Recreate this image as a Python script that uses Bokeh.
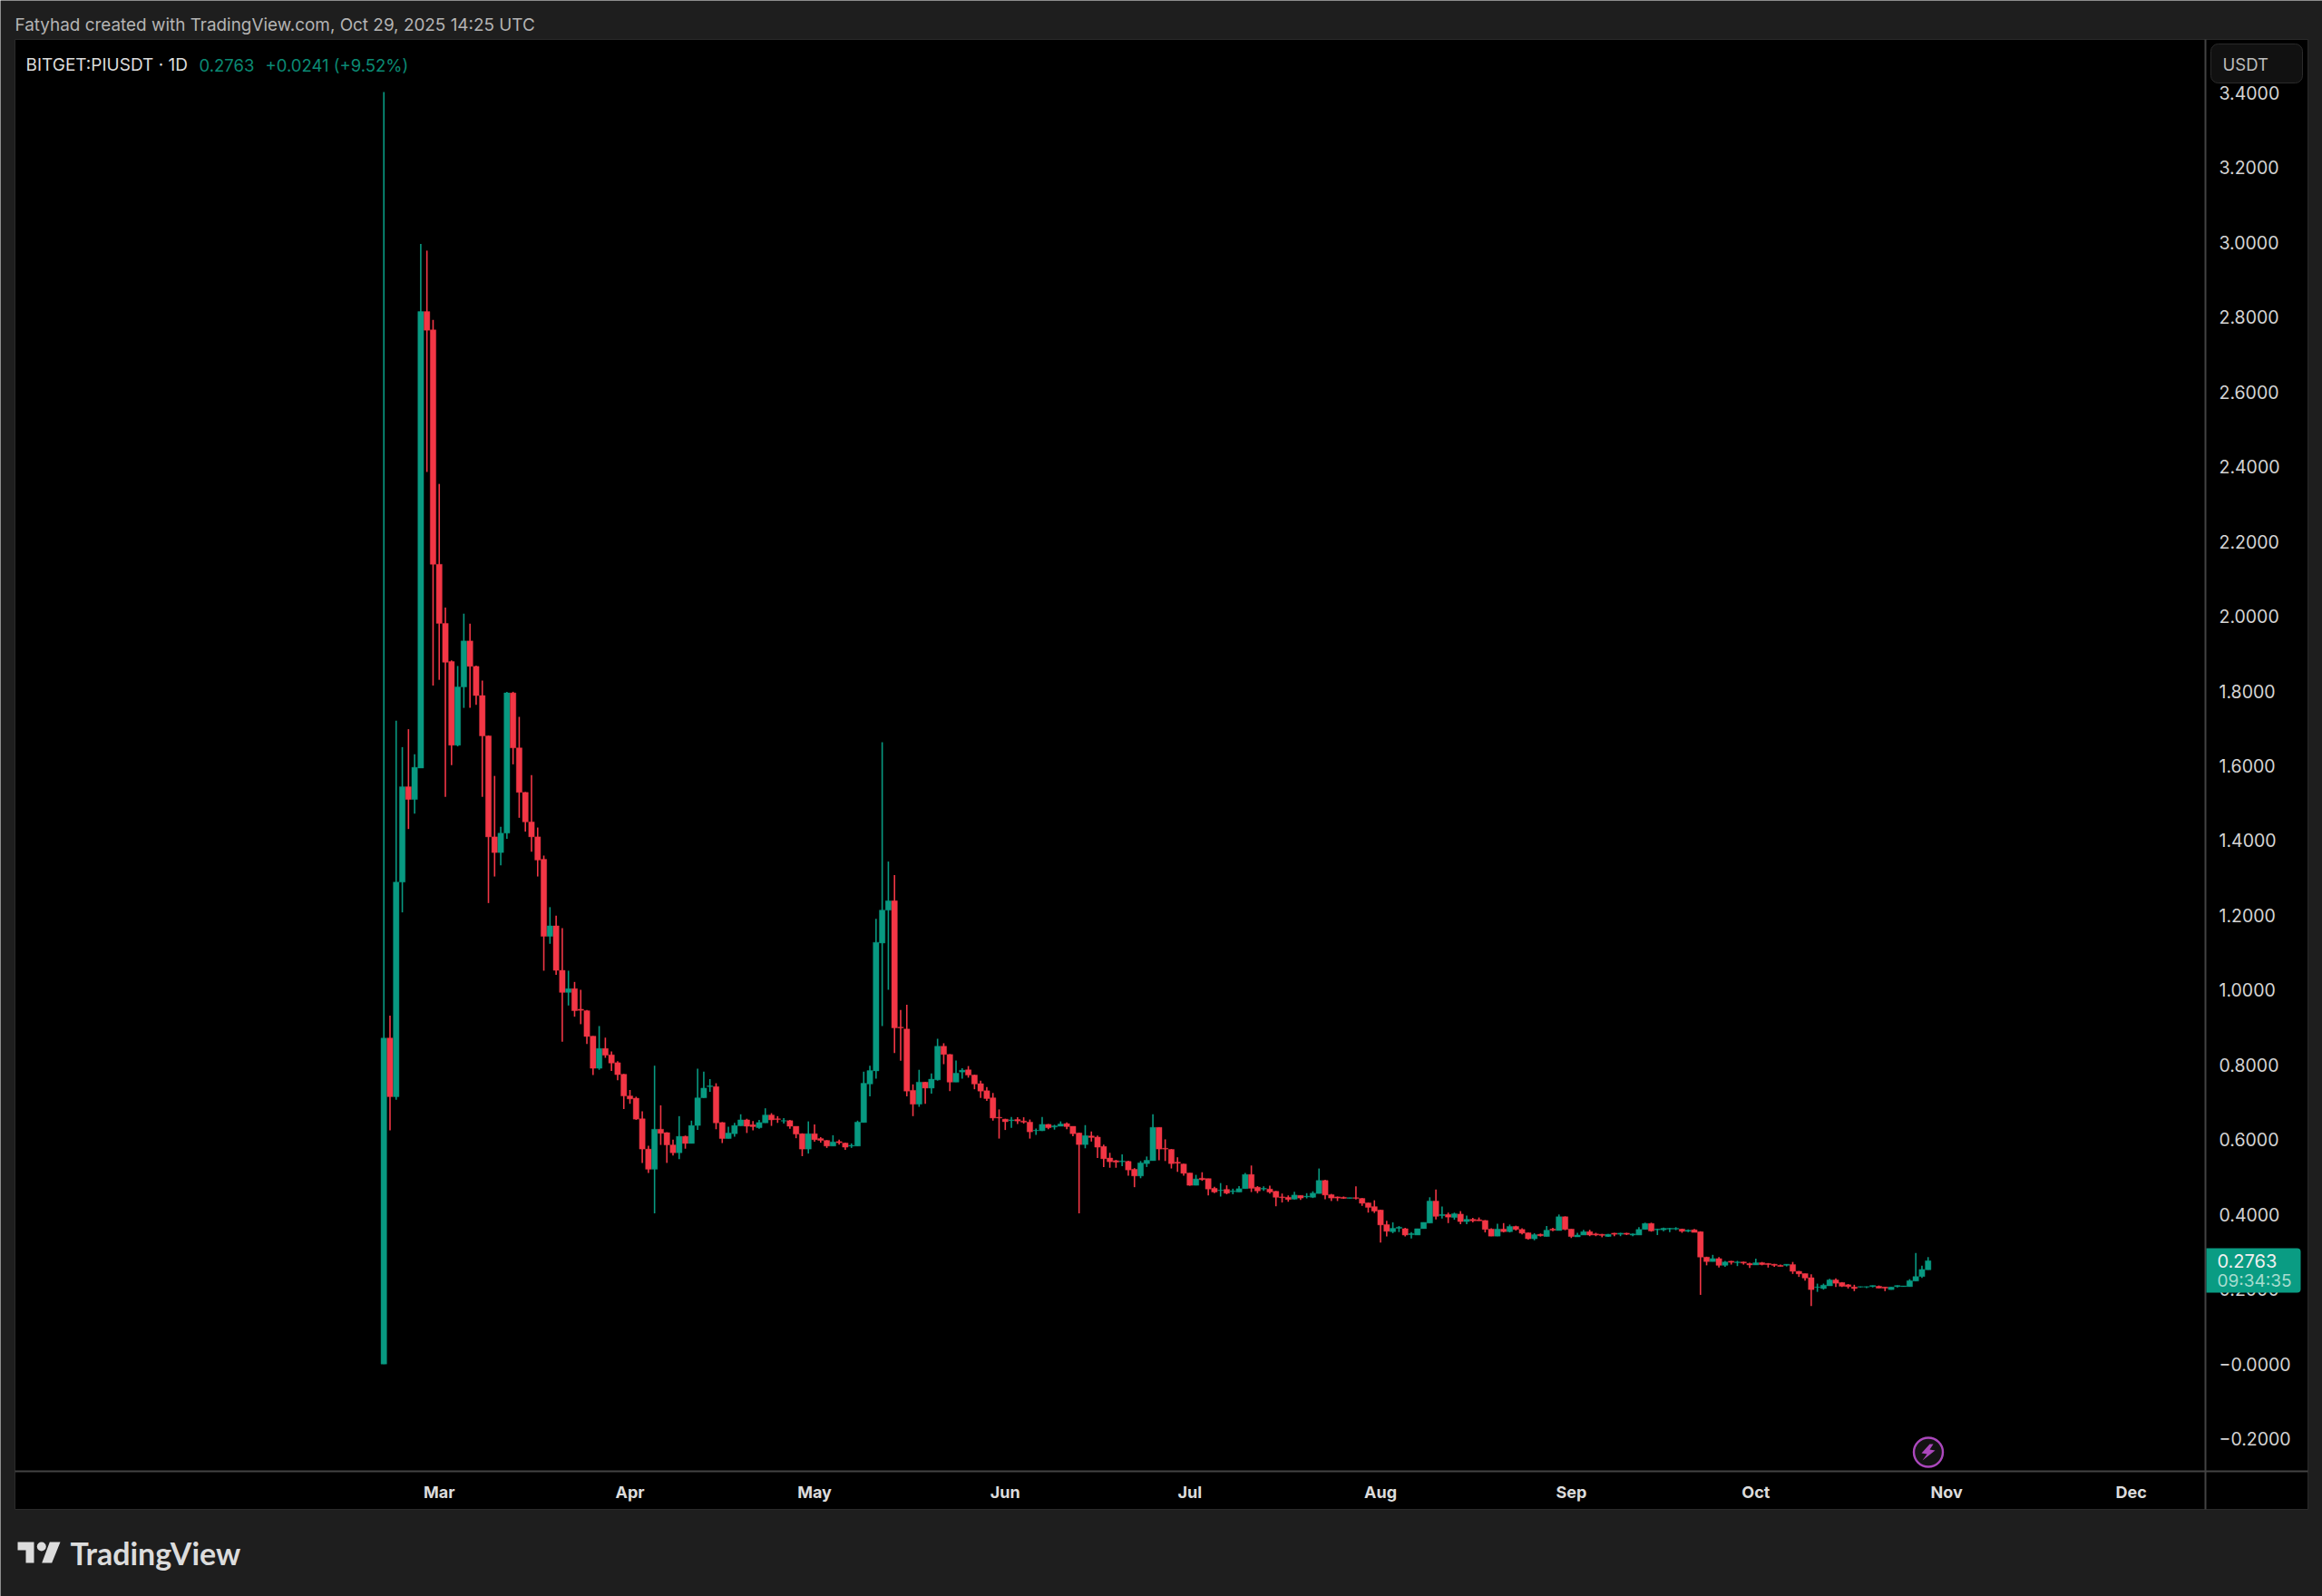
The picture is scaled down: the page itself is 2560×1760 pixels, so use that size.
import pandas as pd
from bokeh.plotting import figure
from bokeh.models import (ColumnDataSource, Range1d, FixedTicker, DatetimeTickFormatter, BoxAnnotation, PolyAnnotation,
                          Label)
from bokeh.embed import file_html
from bokeh.resources import INLINE

opens = [
 0.000,.872,.715,1.289,1.544,1.510,1.594,2.815,2.766,2.139,
 1.981,1.879,1.655,1.811,1.934,1.866,1.788,1.680,1.410,1.368,
 1.420,1.795,1.648,1.529,1.450,1.410,1.350,1.144,1.172,1.053,
 .994,1.004,.949,.945,.877,.791,.844,.827,.806,.775,
 .717,.711,.656,.575,.521,.628,.619,.586,.565,.609,
 .590,.638,.712,.742,.742,.646,.603,.616,.637,.653,
 .640,.632,.645,.666,.656,.650,.651,.636,.616,.575,
 .616,.603,.598,.583,.595,.591,.583,.583,.646,.749,
 .784,1.126,1.214,1.239,.901,.896,.732,.695,.754,.738,
 .760,.850,.828,.754,.781,.787,.773,.750,.731,.712,
 .660,.655,.651,.654,.650,.647,.624,.624,.641,.634,
 .636,.643,.636,.618,.587,.610,.607,.582,.551,.544,
 .541,.542,.521,.503,.536,.544,.633,.577,.574,.540,
 .535,.511,.478,.497,.496,.470,.464,.467,.461,.460,
 .469,.507,.473,.468,.468,.462,.447,.446,.441,.451,
 .447,.446,.456,.491,.453,.447,.446,.443,.445,.443,
 .431,.421,.412,.373,.354,.363,.362,.346,.345,.362,
 .377,.436,.397,.400,.392,.401,.381,.387,.386,.384,
 .361,.342,.361,.354,.368,.360,.351,.335,.347,.341,
 .361,.357,.394,.361,.340,.345,.354,.348,.347,.341,
 .350,.347,.350,.345,.345,.360,.376,.359,.359,.361,
 .361,.361,.355,.359,.354,.286,.274,.282,.264,.275,
 .271,.273,.269,.265,.271,.269,.267,.264,.264,.266,
 .248,.242,.231,.205,.202,.209,.225,.218,.212,.206,
 .206,.206,.207,.208,.206,.199,.207,.207,.207,.222,
 .234,.252]
highs = [
 3.402,.932,1.721,1.650,1.698,1.631,2.996,2.978,2.793,2.354,
 2.023,1.882,1.867,2.007,1.980,1.868,1.828,1.681,1.573,1.437,
 1.798,1.798,1.731,1.530,1.575,1.435,1.360,1.222,1.199,1.166,
 1.052,1.022,1.001,.947,.877,.904,.873,.836,.810,.776,
 .733,.715,.676,.584,.798,.692,.620,.600,.663,.611,
 .651,.790,.782,.762,.751,.647,.635,.645,.668,.656,
 .650,.653,.684,.671,.663,.658,.653,.636,.617,.649,
 .641,.607,.599,.612,.600,.592,.590,.651,.782,.798,
 1.191,1.663,1.344,1.308,.947,.961,.748,.787,.755,.777,
 .870,.858,.829,.812,.791,.797,.774,.758,.741,.725,
 .681,.656,.661,.660,.660,.654,.630,.661,.642,.640,
 .649,.646,.636,.619,.639,.622,.611,.587,.565,.546,
 .561,.544,.524,.543,.555,.668,.633,.601,.575,.553,
 .536,.511,.506,.513,.496,.474,.484,.478,.469,.476,
 .511,.531,.476,.475,.477,.463,.456,.451,.461,.451,
 .457,.462,.523,.493,.455,.448,.448,.445,.475,.444,
 .432,.438,.413,.383,.379,.369,.364,.353,.362,.379,
 .446,.467,.421,.405,.405,.409,.397,.391,.392,.385,
 .363,.375,.377,.373,.370,.363,.352,.350,.349,.369,
 .364,.400,.395,.361,.351,.359,.359,.351,.348,.348,
 .351,.351,.351,.349,.366,.378,.378,.362,.365,.364,
 .366,.362,.360,.361,.355,.287,.292,.286,.276,.276,
 .276,.274,.271,.282,.273,.270,.268,.266,.267,.273,
 .249,.242,.240,.215,.215,.228,.229,.219,.214,.212,
 .207,.207,.210,.210,.206,.206,.210,.209,.227,.297,
 .263,.286]
lows = [
 0.000,.625,.707,1.208,1.431,1.472,1.594,2.386,1.815,1.830,
 1.517,1.602,1.652,1.755,1.755,1.763,1.517,1.233,1.304,1.334,
 1.405,1.604,1.461,1.424,1.370,1.304,1.052,1.124,1.041,.862,
 .959,.929,.909,.856,.773,.787,.819,.784,.759,.682,
 .696,.653,.538,.511,.403,.586,.538,.558,.548,.576,
 .590,.626,.712,.728,.628,.591,.603,.608,.637,.618,
 .625,.629,.645,.637,.645,.643,.629,.604,.556,.563,
 .595,.592,.578,.583,.587,.573,.578,.583,.646,.716,
 .763,.904,1.001,.832,.811,.716,.663,.688,.696,.723,
 .758,.802,.730,.754,.763,.766,.735,.712,.704,.651,
 .603,.626,.632,.642,.643,.603,.613,.623,.628,.627,
 .636,.628,.609,.403,.577,.595,.551,.527,.525,.525,
 .529,.504,.473,.497,.527,.544,.545,.543,.523,.514,
 .504,.477,.478,.490,.451,.457,.448,.454,.454,.460,
 .469,.460,.457,.463,.456,.422,.432,.434,.440,.439,
 .443,.444,.456,.441,.436,.436,.442,.443,.440,.423,
 .405,.404,.325,.341,.350,.353,.341,.336,.345,.362,
 .377,.387,.389,.377,.386,.374,.374,.379,.383,.352,
 .342,.342,.352,.352,.357,.347,.333,.331,.341,.341,
 .355,.357,.358,.337,.340,.345,.342,.342,.339,.340,
 .342,.342,.345,.342,.345,.360,.354,.345,.355,.353,
 .358,.351,.353,.352,.185,.264,.274,.258,.260,.266,
 .262,.266,.257,.265,.264,.258,.260,.261,.261,.241,
 .233,.223,.155,.193,.199,.209,.206,.206,.202,.195,
 .205,.203,.205,.203,.195,.199,.205,.207,.207,.222,
 .230,.252]
closes = [
 .872,.715,1.289,1.544,1.510,1.596,2.815,2.765,2.139,1.981,
 1.877,1.655,1.811,1.934,1.866,1.788,1.680,1.410,1.368,1.420,
 1.795,1.648,1.529,1.450,1.410,1.348,1.144,1.172,1.053,.994,
 1.004,.945,.946,.876,.791,.844,.826,.805,.774,.717,
 .709,.655,.575,.521,.628,.617,.586,.565,.609,.590,
 .638,.712,.738,.744,.645,.603,.618,.638,.653,.636,
 .635,.646,.666,.653,.654,.651,.636,.615,.575,.616,
 .600,.598,.583,.594,.592,.580,.585,.647,.751,.785,
 1.128,1.214,1.239,.899,.899,.730,.695,.754,.738,.762,
 .850,.828,.754,.778,.786,.773,.749,.730,.710,.658,
 .658,.648,.653,.650,.647,.621,.625,.641,.632,.637,
 .642,.635,.616,.587,.611,.606,.580,.549,.541,.540,
 .543,.519,.503,.538,.545,.633,.575,.575,.536,.537,
 .510,.478,.495,.493,.468,.460,.465,.457,.463,.469,
 .507,.470,.463,.470,.460,.446,.445,.440,.452,.444,
 .449,.457,.491,.452,.444,.444,.443,.445,.443,.430,
 .419,.409,.372,.355,.363,.366,.345,.349,.362,.379,
 .436,.395,.400,.393,.402,.381,.387,.383,.383,.360,
 .342,.361,.354,.368,.360,.350,.335,.346,.343,.358,
 .358,.394,.360,.341,.345,.354,.345,.345,.344,.347,
 .347,.350,.347,.348,.360,.376,.356,.361,.363,.363,
 .363,.355,.358,.352,.286,.274,.282,.264,.273,.272,
 .273,.270,.265,.271,.266,.266,.264,.261,.267,.248,
 .241,.230,.199,.206,.211,.225,.216,.208,.207,.202,
 .207,.207,.210,.203,.203,.206,.210,.209,.223,.234,
 .253,.2763]
dates = pd.date_range("2025-02-20", periods=len(closes))
assert len(opens) == len(highs) == len(lows) == len(closes) == 252

month_starts = ["2025-03-01", "2025-04-01", "2025-05-01", "2025-06-01", "2025-07-01", "2025-08-01",
                "2025-09-01", "2025-10-01", "2025-11-01", "2025-12-01"]
price_ticks = [3.4, 3.2, 3.0, 2.8, 2.6, 2.4, 2.2, 2.0, 1.8, 1.6, 1.4, 1.2, 1.0, 0.8, 0.6, 0.4, 0.2, 0.0, -0.2]
price_labels = ["3.4000", "3.2000", "3.0000", "2.8000", "2.6000", "2.4000", "2.2000", "2.0000", "1.8000", "1.6000",
                "1.4000", "1.2000", "1.0000", "0.8000", "0.6000", "0.4000", "0.2000", "\u22120.0000", "\u22120.2000"]

GREEN = "#089981"
RED = "#f23645"
DARK = "#1e1e1e"
FONT = "Inter"
DAY = 86400000.0
W, H = 2560, 1760

col = [GREEN if c >= o else RED for o, c in zip(opens, closes)]
src = ColumnDataSource(dict(x=dates, o=opens, h=highs, l=lows, c=closes, col=col))

t0 = dates[0].value / 1e6
# pixel scale of the chart: 6.783 px per day, 412.3 px per price unit; the frame fills the whole canvas
p = figure(width=W, height=H, output_backend="svg", toolbar_location=None,
           x_axis_type="datetime", y_axis_location="right",
           x_range=Range1d(t0 - 422.7 / 6.783 * DAY, t0 + (W - 422.7) / 6.783 * DAY),
           y_range=Range1d((1503.7 - H) / 412.3, 1503.7 / 412.3),
           min_border=0, background_fill_color=DARK, border_fill_color=DARK, outline_line_color=None,
           styles={"position": "absolute", "left": "0px", "top": "0px"})
p.grid.visible = False

p.segment("x", "h", "x", "l", source=src, line_color="col", line_width=1.6)
p.vbar("x", 0.93 * DAY, "o", "c", source=src, fill_color="col", line_color="col", line_width=0.4)


def px_x(px):
    return t0 + (px - 422.7) / 6.783 * DAY


def px_y(py):
    return (1503.7 - py) / 412.3


# axes sit inside the full-canvas frame
ya = p.yaxis[0]
ya.fixed_location = px_x(2431)
ya.ticker = FixedTicker(ticks=price_ticks)
ya.major_label_overrides = dict(zip(price_ticks, price_labels))
ya.major_label_text_align = "left"
ya.major_label_text_baseline = "middle"
ya.major_label_standoff = 9
ya.major_label_text_font = FONT
ya.major_label_text_font_size = "19.5px"
ya.major_label_text_color = "#d4d4d4"
ya.axis_line_color = None
ya.major_tick_line_color = None
ya.minor_tick_line_color = None

xa = p.xaxis[0]
xa.fixed_location = px_y(1622)
xa.ticker = FixedTicker(ticks=[pd.Timestamp(m).value / 1e6 for m in month_starts])
xa.formatter = DatetimeTickFormatter(days="%b", months="%b", years="%b", context=None)
xa.major_label_standoff = 6
xa.major_label_text_font = FONT
xa.major_label_text_font_style = "bold"
xa.major_label_text_font_size = "18px"
xa.major_label_text_color = "#dcdcdc"
xa.axis_line_color = None
xa.major_tick_line_color = None
xa.minor_tick_line_color = None


def box(l, r, t, b, level="underlay", **kw):
    a = dict(fill_color="#000000", fill_alpha=1.0, line_color=None, line_alpha=1.0)
    a.update(kw)
    bb = BoxAnnotation(left=l, right=r, top=t, bottom=b, left_units="canvas", right_units="canvas",
                       top_units="canvas", bottom_units="canvas", level=level, **a)
    p.add_layout(bb)
    return bb


def poly(pts, color):
    p.add_layout(PolyAnnotation(xs=[q[0] for q in pts], ys=[q[1] for q in pts], xs_units="canvas", ys_units="canvas",
                                fill_color=color, fill_alpha=1.0, line_color=None, level="overlay"))


def text(s, x, y, size, color, style="normal", font=FONT, level="overlay"):
    p.add_layout(Label(x=x, y=H - y, x_units="screen", y_units="screen", text=s, text_font=font,
                       text_font_size=size, text_color=color, text_font_style=style,
                       text_baseline="middle", text_align="left", level=level))


# pane and separators
box(16, 2544, 43, 1664, line_color="#2a2a2a", line_width=1)
box(2430, 2432, 43, 1664, level="guide", fill_color="#434343")
box(16, 2544, 1621, 1623, level="guide", fill_color="#434343")

# header
text("Fatyhad created with TradingView.com, Oct 29, 2025 14:25 UTC", 16, 27, "18.9px", "#b4b4b4")
text("BITGET:PIUSDT \u00b7 1D", 28, 71, "19px", "#dcdcdc")
text("0.2763", 219, 71, "18.5px", "#0b8a74")
text("+0.0241 (+9.52%)", 292, 71, "18.5px", "#0b8a74")

# currency badge
box(2437, 2538, 48, 91, level="overlay", fill_color="#111111", line_color="#2a2a2a", line_width=1, border_radius=8)
text("USDT", 2450, 70, "18.5px", "#bdbdbd")

# last price tag
box(2432, 2536, 1376, 1425, level="overlay", fill_color="#0a9c83",
    border_radius=dict(top_left=0, top_right=4, bottom_right=4, bottom_left=0))
text("0.2763", 2444, 1390, "20px", "#f0f0f0")
text("09:34:35", 2444, 1412, "19px", "#a6dccf")

# lightning mark
box(2109.5, 2141.5, 1585, 1617, level="overlay", fill_color="#131313", line_color="#ab47bc", line_width=2.4, border_radius=16)
poly([(2127, 1592), (2118, 1602), (2124, 1603), (2119, 1610), (2133, 1599), (2127, 1598), (2131, 1592)], "#ab47bc")

# logo
poly([(19, 1700), (37, 1700), (37, 1723), (28, 1723), (28, 1709), (19, 1709)], "#dcdcdc")
poly([(54.3, 1700), (66, 1700), (56.7, 1723), (45.7, 1723)], "#dcdcdc")
box(40.3, 50.3, 1700, 1710, level="overlay", fill_color="#dcdcdc", border_radius=5)
text("TradingView", 77, 1712, "34px", "#dcdcdc", style="bold", font="Lato")

open("out.html", "w").write(file_html(p, INLINE))
